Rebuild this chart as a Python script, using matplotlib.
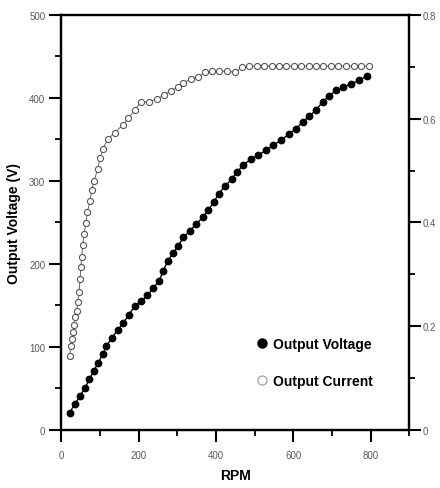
import matplotlib
matplotlib.use("Agg")
import matplotlib.pyplot as plt
from matplotlib.ticker import MultipleLocator
from matplotlib.lines import Line2D

plt.rcParams['font.family'] = ['Liberation Sans', 'DejaVu Sans']

# Output Voltage (V) vs RPM
rpm_v = [22, 35, 49, 62, 73, 84, 96, 107, 117, 131, 146, 161, 175, 190, 206, 223, 238,
         254, 264, 275, 289, 303, 316, 333, 349, 366, 381, 394, 407, 424, 441, 455, 471,
         490, 510, 530, 549, 568, 588, 607, 625, 642, 660, 676, 692, 711, 730, 750, 770, 790]
volt = [21, 31, 41, 51, 61, 71, 81, 91, 101, 111, 120, 129, 139, 149, 155, 162, 171,
        180, 192, 203, 213, 222, 232, 240, 248, 256, 265, 274, 284, 294, 302, 311, 319,
        326, 331, 337, 343, 349, 356, 363, 371, 378, 386, 395, 402, 409, 413, 417, 421, 426]

# Output Current (A) vs RPM
rpm_i = [22, 25, 28, 31, 34, 37, 40, 43, 46, 49, 51, 53, 56, 59, 64, 68, 75, 79, 85, 94,
         101, 108, 120, 139, 159, 174, 191, 206, 226, 249, 266, 284, 301, 316, 335, 355,
         372, 390, 409, 428, 450, 467, 487, 506, 525, 544, 563, 582, 601, 620, 640, 659,
         678, 697, 717, 737, 756, 776, 795]
curr = [0.142, 0.162, 0.175, 0.188, 0.202, 0.217, 0.230, 0.246, 0.265, 0.291, 0.314, 0.333,
        0.357, 0.378, 0.399, 0.421, 0.442, 0.463, 0.480, 0.502, 0.524, 0.542, 0.560, 0.573,
        0.588, 0.601, 0.617, 0.632, 0.632, 0.638, 0.646, 0.654, 0.660, 0.668, 0.677, 0.681,
        0.690, 0.691, 0.691, 0.692, 0.689, 0.699, 0.701, 0.701, 0.701, 0.701, 0.701, 0.701,
        0.701, 0.701, 0.701, 0.701, 0.701, 0.701, 0.701, 0.701, 0.701, 0.701, 0.701]

fig = plt.figure(figsize=(4.4, 4.89), dpi=100)
ax = fig.add_axes([0.139, 0.1186, 0.791, 0.849])
ax2 = ax.twinx()

ax.plot(rpm_v, volt, color='black', lw=1.0, marker='o', ms=4.6,
        mfc='black', mec='black', zorder=3)
ax2.plot(rpm_i, curr, color='#666666', lw=0.7, marker='o', ms=4.4,
         mfc='white', mec='#555555', mew=0.8, zorder=3)

ax.set_xlim(0, 900)
ax.set_ylim(0, 500)
ax2.set_ylim(0, 0.8)

ax.xaxis.set_major_locator(MultipleLocator(200))
ax.xaxis.set_minor_locator(MultipleLocator(100))
ax.yaxis.set_major_locator(MultipleLocator(100))
ax.yaxis.set_minor_locator(MultipleLocator(50))
ax2.yaxis.set_minor_locator(MultipleLocator(0.1))
ax2.set_yticks([0, 0.2, 0.4, 0.6, 0.8])
ax2.set_yticklabels(['0', '0.2', '0.4', '0.6', '0.8'])

for a in (ax, ax2):
    for s in a.spines.values():
        s.set_linewidth(1.6)
    a.tick_params(which='major', length=8.5, width=1.5, direction='out',
                  labelsize=7, labelcolor='#5a5a5a')
    a.tick_params(which='minor', length=4.5, width=1.3, direction='out')

ax.tick_params(axis='y', which='both', right=False, pad=3)
ax.tick_params(axis='x', which='both', top=False, pad=6)
ax2.tick_params(axis='y', which='both', pad=1.5)

ax.set_xlabel('RPM', fontsize=10, fontweight='bold', labelpad=6)
ax.set_ylabel('Output Voltage (V)', fontsize=10, fontweight='bold', labelpad=6)

handles = [
    Line2D([], [], ls='none', marker='o', ms=6.5, mfc='black', mec='black'),
    Line2D([], [], ls='none', marker='o', ms=6.5, mfc='white', mec='#999999', mew=0.8),
]
ax2.legend(handles, ['Output Voltage', 'Output Current'], loc='center left',
           bbox_to_anchor=(0.528, 0.162), frameon=False, prop={'weight': 'bold', 'size': 10},
           handlelength=0.6, handletextpad=0.5, labelspacing=1.65)

fig.savefig('out.png', dpi=100)
